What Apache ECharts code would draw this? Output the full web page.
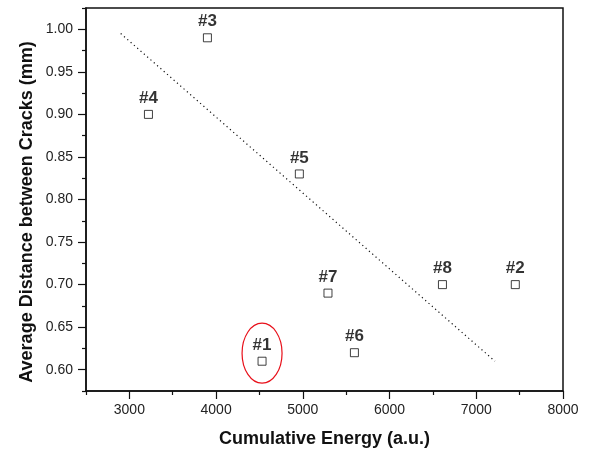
<!DOCTYPE html>
<html>
<head>
<meta charset="utf-8">
<script src="https://cdn.jsdelivr.net/npm/echarts@6/dist/echarts.min.js"></script>
<style>
  html, body { margin: 0; padding: 0; background: #fff; }
  #chart { width: 592px; height: 453px; }
</style>
</head>
<body>
<div id="chart"></div>
<script>
// Specimen measurements: cumulative energy vs. mean crack spacing
const specimenLabels = ['#1', '#2', '#3', '#4', '#5', '#6', '#7', '#8'];
const cumulativeEnergy = [4530, 7450, 3900, 3220, 4960, 5595, 5290, 6610];
const crackDistance = [0.61, 0.70, 0.99, 0.90, 0.83, 0.62, 0.69, 0.70];

// Dotted trend line end points
const trendEnergy = [2900, 7215];
const trendDistance = [0.995, 0.610];

// Tick positions
const xMajorTicks = [3000, 4000, 5000, 6000, 7000, 8000];
const xMinorTicks = [2500, 3500, 4500, 5500, 6500, 7500];
const yMajorTicks = [0.60, 0.65, 0.70, 0.75, 0.80, 0.85, 0.90, 0.95, 1.00];
const yMinorTicks = [0.575, 0.625, 0.675, 0.725, 0.775, 0.825, 0.875, 0.925, 0.975, 1.025];

// Highlighted specimen (circled)
const highlightIndex = 0;

const FONT = 'Liberation Sans, Arial, sans-serif';
const X_MIN = 2500, X_MAX = 8000, Y_MIN = 0.575, Y_MAX = 1.025;
const Y_TITLE = 'Average Distance between Cracks (mm)';

const chart = echarts.init(document.getElementById('chart'), null, { renderer: 'canvas' });

const pointData = cumulativeEnergy.map((e, i) => ({ value: [e, crackDistance[i]], name: specimenLabels[i] }));
const trendData = trendEnergy.map((e, i) => [e, trendDistance[i]]);

const baseX = {
  type: 'value', min: X_MIN, max: X_MAX, gridIndex: 0,
  splitLine: { show: false }
};
const baseY = {
  type: 'value', min: Y_MIN, max: Y_MAX, gridIndex: 0,
  splitLine: { show: false }
};

chart.setOption({
  animation: false,
  backgroundColor: '#fff',
  grid: {
    left: 86, top: 8, right: 29, bottom: 61,
    show: true, borderColor: '#111', borderWidth: 1.5, backgroundColor: 'transparent'
  },
  xAxis: [
    Object.assign({}, baseX, {
      name: 'Cumulative Energy (a.u.)',
      nameLocation: 'middle', nameGap: 39,
      nameTextStyle: { fontFamily: FONT, fontWeight: 'bold', fontSize: 18, color: '#111' },
      axisLine: { show: true, lineStyle: { color: '#111', width: 1.5 } },
      axisTick: { show: true, customValues: xMajorTicks, length: 8, lineStyle: { color: '#111', width: 1.2 } },
      axisLabel: {
        customValues: xMajorTicks, margin: 12, fontFamily: FONT, fontSize: 14, color: '#222',
        formatter: v => String(Math.round(v))
      }
    }),
    Object.assign({}, baseX, {
      position: 'bottom',
      axisLine: { show: false },
      axisTick: { show: true, customValues: xMinorTicks, length: 4, lineStyle: { color: '#111', width: 1.2 } },
      axisLabel: { show: false }
    })
  ],
  yAxis: [
    Object.assign({}, baseY, {
      axisLine: { show: true, lineStyle: { color: '#111', width: 1.5 } },
      axisTick: { show: true, customValues: yMajorTicks, length: 8, lineStyle: { color: '#111', width: 1.2 } },
      axisLabel: {
        customValues: yMajorTicks, margin: 13, fontFamily: FONT, fontSize: 14, color: '#222',
        formatter: v => Number(v).toFixed(2)
      }
    }),
    Object.assign({}, baseY, {
      position: 'left',
      axisLine: { show: false },
      axisTick: { show: true, customValues: yMinorTicks, length: 4, lineStyle: { color: '#111', width: 1.2 } },
      axisLabel: { show: false }
    })
  ],
  series: [
    {
      type: 'scatter',
      xAxisIndex: 0, yAxisIndex: 0,
      data: pointData,
      symbol: 'rect',
      symbolSize: 8,
      itemStyle: { color: '#fff', borderColor: '#111', borderWidth: 1 },
      label: {
        show: true, position: 'top', distance: 3,
        formatter: p => p.name,
        fontFamily: FONT, fontWeight: 'bold', fontSize: 17, color: '#000'
      },
      z: 3
    },
    {
      type: 'line',
      xAxisIndex: 0, yAxisIndex: 0,
      data: trendData,
      symbol: 'none',
      lineStyle: { color: '#111', width: 1.2, type: [1.2, 3.2] },
      z: 2
    }
  ]
});

// Red ellipse around the highlighted specimen and its label; vertical axis title
const c = chart.convertToPixel({ seriesIndex: 0 }, [cumulativeEnergy[highlightIndex], crackDistance[highlightIndex]]);
chart.setOption({
  graphic: [
    {
      type: 'ellipse',
      shape: { cx: c[0], cy: c[1] - 8, rx: 20, ry: 30 },
      style: { fill: 'none', stroke: '#e8101a', lineWidth: 1.2 },
      z: 10
    },
    {
      type: 'text',
      x: 27, y: 212,
      rotation: Math.PI / 2,
      style: {
        text: Y_TITLE,
        font: 'bold 18px ' + FONT,
        fill: '#111',
        align: 'center',
        verticalAlign: 'middle'
      },
      z: 10
    }
  ]
});
</script>
</body>
</html>
